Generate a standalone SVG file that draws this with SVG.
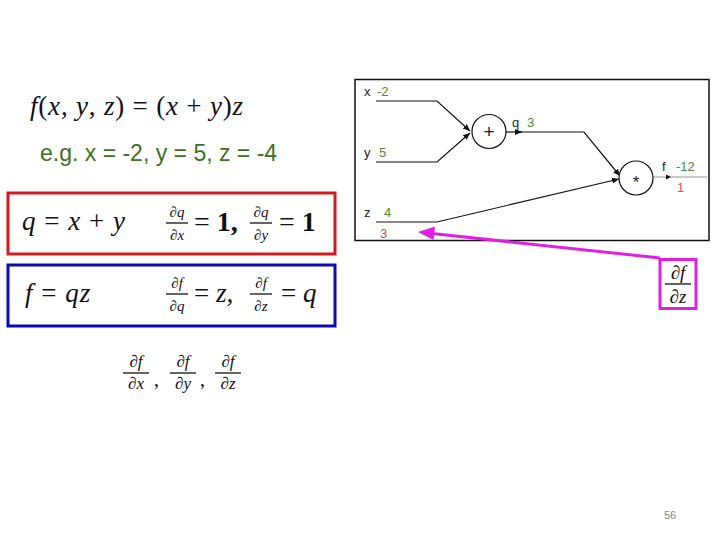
<svg xmlns="http://www.w3.org/2000/svg" width="720" height="540" viewBox="0 0 720 540">
<style>
.m{font-family:"Liberation Serif","DejaVu Serif",serif;fill:#111}
.i{font-style:italic}
.b{font-weight:bold}
.s{font-family:"Liberation Sans",Arial,sans-serif}
.lbl{font-family:"Liberation Sans",Arial,sans-serif;font-size:13px;fill:#222}
.op{font-family:"Liberation Sans",Arial,sans-serif;fill:#222}
.gv{font-family:"Liberation Sans",Arial,sans-serif;font-size:13px;fill:#4a8a3a}
.rv{font-family:"Liberation Sans",Arial,sans-serif;font-size:13px;fill:#d05050}
.w{fill:none;stroke:#111;stroke-width:1.2}
.fr{stroke:#111;stroke-width:1.3}
.node{fill:#fff;stroke:#111;stroke-width:1.2}
</style>
<defs>
<marker id="ah" markerWidth="8" markerHeight="8" refX="7" refY="4" orient="auto" markerUnits="userSpaceOnUse">
<path d="M0,1 L7,4 L0,7 Z" fill="#111"/>
</marker>
</defs>
<rect width="720" height="540" fill="#fff"/>

<g id="equation">
<text class="m" x="30" y="115" font-size="27" letter-spacing="0.8"><tspan class="i">f</tspan>(<tspan class="i">x</tspan>, <tspan class="i">y</tspan>, <tspan class="i">z</tspan>) = (<tspan class="i">x</tspan> + <tspan class="i">y</tspan>)<tspan class="i">z</tspan></text>
</g>
<g id="example">
<text class="s" x="40" y="161" font-size="23" fill="#3f6e2a">e.g. x = -2, y = 5, z = -4</text>
</g>

<g id="add-box">
<rect x="8" y="193" width="327" height="61" fill="none" stroke="#d01c1c" stroke-width="3"/>
<text class="m" x="22" y="230" font-size="27" letter-spacing="1"><tspan class="i">q</tspan> = <tspan class="i">x</tspan> + <tspan class="i">y</tspan></text>
<text class="m" x="177" y="217" font-size="15" text-anchor="middle">∂<tspan class="i">q</tspan></text>
<line class="fr" x1="166" y1="223" x2="188" y2="223"/>
<text class="m" x="177" y="240" font-size="15" text-anchor="middle">∂<tspan class="i">x</tspan></text>
<text class="m" x="194" y="231" font-size="28">= <tspan class="b">1,</tspan></text>
<text class="m" x="261" y="217" font-size="15" text-anchor="middle">∂<tspan class="i">q</tspan></text>
<line class="fr" x1="250" y1="223" x2="272" y2="223"/>
<text class="m" x="261" y="240" font-size="15" text-anchor="middle">∂<tspan class="i">y</tspan></text>
<text class="m" x="279" y="231" font-size="28">= <tspan class="b">1</tspan></text>
</g>

<g id="mul-box">
<rect x="8" y="265" width="327" height="61" fill="none" stroke="#0a0ab0" stroke-width="3"/>
<text class="m" x="25" y="302" font-size="27" letter-spacing="1"><tspan class="i">f</tspan> = <tspan class="i">qz</tspan></text>
<text class="m" x="177" y="288" font-size="15" text-anchor="middle">∂<tspan class="i">f</tspan></text>
<line class="fr" x1="166" y1="294" x2="188" y2="294"/>
<text class="m" x="177" y="311" font-size="15" text-anchor="middle">∂<tspan class="i">q</tspan></text>
<text class="m" x="194" y="302" font-size="27">= <tspan class="i">z</tspan>,</text>
<text class="m" x="261" y="288" font-size="15" text-anchor="middle">∂<tspan class="i">f</tspan></text>
<line class="fr" x1="250" y1="294" x2="272" y2="294"/>
<text class="m" x="261" y="311" font-size="15" text-anchor="middle">∂<tspan class="i">z</tspan></text>
<text class="m" x="281" y="302" font-size="27">= <tspan class="i">q</tspan></text>
</g>

<g id="goal">
<text class="m" x="136" y="367" font-size="17" text-anchor="middle">∂<tspan class="i">f</tspan></text>
<line class="fr" x1="123" y1="373" x2="149" y2="373"/>
<text class="m" x="136" y="389" font-size="17" text-anchor="middle">∂<tspan class="i">x</tspan></text>
<text class="m" x="154" y="386" font-size="20">,</text>
<text class="m" x="183" y="367" font-size="17" text-anchor="middle">∂<tspan class="i">f</tspan></text>
<line class="fr" x1="170" y1="373" x2="196" y2="373"/>
<text class="m" x="183" y="389" font-size="17" text-anchor="middle">∂<tspan class="i">y</tspan></text>
<text class="m" x="200" y="386" font-size="20">,</text>
<text class="m" x="228" y="367" font-size="17" text-anchor="middle">∂<tspan class="i">f</tspan></text>
<line class="fr" x1="215" y1="373" x2="241" y2="373"/>
<text class="m" x="228" y="389" font-size="17" text-anchor="middle">∂<tspan class="i">z</tspan></text>
</g>

<g id="graph-frame">
<rect x="355" y="79.5" width="354" height="161" fill="none" stroke="#111" stroke-width="1.5"/>
</g>

<g id="connectors">
<polyline class="w" points="376,101 437,101 470,131" marker-end="url(#ah)"/>
<polyline class="w" points="376,162 437,162 470,133" marker-end="url(#ah)"/>
<line class="w" x1="506" y1="132" x2="522" y2="132" marker-end="url(#ah)"/>
<polyline class="w" points="520,132 584,132 620,176" marker-end="url(#ah)"/>
<polyline class="w" points="376,222 437,222 619,179" marker-end="url(#ah)"/>
<line x1="653" y1="177" x2="707" y2="177" stroke="#999" stroke-width="1.2"/>
<path d="M666,174.5 L671,177 L666,179.5 Z" fill="#111"/>
<line x1="660" y1="258" x2="432" y2="233.5" stroke="#e020e0" stroke-width="3"/>
<path d="M418,232 L435,226.5 L433.5,240 Z" fill="#e020e0"/>
</g>

<g id="node-x">
<text class="lbl" x="364" y="96">x</text>
<text class="gv" x="377" y="96">-2</text>
</g>
<g id="node-y">
<text class="lbl" x="364" y="157">y</text>
<text class="gv" x="379" y="157">5</text>
</g>
<g id="node-z">
<text class="lbl" x="364" y="217">z</text>
<text class="gv" x="384" y="217">4</text>
<text class="rv" x="380" y="238">3</text>
</g>
<g id="node-plus">
<circle class="node" cx="489" cy="131.5" r="17"/>
<text class="op" x="489" y="138" text-anchor="middle" font-size="19">+</text>
</g>
<g id="label-q">
<text class="lbl" x="512" y="127">q</text>
<text class="gv" x="527" y="127">3</text>
</g>
<g id="node-mul">
<circle class="node" cx="636" cy="178" r="17"/>
<text class="op" x="636" y="188" text-anchor="middle" font-size="17">*</text>
</g>
<g id="label-f">
<text class="lbl" x="662" y="171">f</text>
<text class="gv" x="676" y="171">-12</text>
<text class="rv" x="677" y="192">1</text>
</g>

<g id="dfdz-box">
<rect x="660" y="259.5" width="36" height="49" fill="#fff" stroke="#e020e0" stroke-width="3"/>
<text class="m" x="678" y="279" font-size="19" text-anchor="middle">∂<tspan class="i">f</tspan></text>
<line class="fr" x1="665" y1="284" x2="691" y2="284"/>
<text class="m" x="678" y="303" font-size="19" text-anchor="middle">∂<tspan class="i">z</tspan></text>
</g>

<g id="page-number">
<text class="s" x="670" y="519" font-size="11" fill="#888" text-anchor="middle">56</text>
</g>
</svg>
